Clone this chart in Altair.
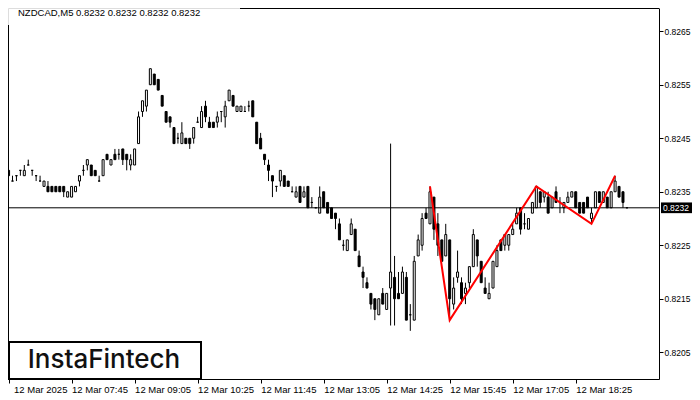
import altair as alt
import pandas as pd

# ---------------- data ----------------
opens = [0.8239,0.8237,0.8238,0.8239,0.8238,0.8240,0.8239,0.8238,0.8237,0.8236,
         0.8236,0.8236,0.8236,0.8236,0.8236,0.8234,0.8234,0.8235,0.8237,0.8239,
         0.8240,0.8240,0.8239,0.8237,0.8238,0.8242,0.8240,0.8242,0.8242,0.8243,
         0.8242,0.8240,0.8240,0.8244,0.8250,0.8251,0.8255,0.8257,0.8256,0.8253,
         0.8250,0.8249,0.8247,0.8245,0.8244,0.8245,0.8245,0.8245,0.8248,0.8247,
         0.8251,0.8248,0.8248,0.8248,0.8250,0.8249,0.8252,0.8253,0.8250,0.8250,
         0.8250,0.8251,0.8252,0.8248,0.8245,0.8242,0.8240,0.8238,0.8236,0.8237,
         0.8238,0.8237,0.8235,0.8234,0.8236,0.8234,0.8236,0.8233,0.8232,0.8231,
         0.8235,0.8233,0.8232,0.8231,0.8229,0.8225,0.8224,0.8227,0.8228,0.8223,
         0.8220,0.8218,0.8216,0.8215,0.8212,0.8216,0.8213,0.8217,0.8219,0.8216,
         0.8216,0.8219,0.8212,0.8211,0.8223,0.8225,0.8231,0.8229,0.8234,0.8229,
         0.8226,0.8223,0.8226,0.8214,0.8219,0.8218,0.8216,0.8218,0.8221,0.8226,
         0.8222,0.8217,0.8215,0.8217,0.8221,0.8226,0.8225,0.8225,0.8227,0.8229,
         0.8232,0.8229,0.8228,0.8231,0.8232,0.8235,0.8234,0.8234,0.8232,0.8235,
         0.8233,0.8232,0.8233,0.8234,0.8235,0.8233,0.8233,0.8234,0.8230,0.8232,
         0.8235,0.8233,0.8234,0.8232,0.8235,0.8236,0.8235,0.8232]
highs = [0.8239,0.8238,0.8238,0.8239,0.8240,0.8241,0.8239,0.8238,0.8238,0.8237,
         0.8237,0.8236,0.8236,0.8236,0.8236,0.8235,0.8236,0.8236,0.8238,0.8240,
         0.8241,0.8240,0.8239,0.8238,0.8241,0.8242,0.8241,0.8243,0.8243,0.8243,
         0.8242,0.8242,0.8243,0.8250,0.8252,0.8254,0.8258,0.8257,0.8256,0.8253,
         0.8250,0.8249,0.8247,0.8246,0.8248,0.8245,0.8245,0.8247,0.8249,0.8251,
         0.8252,0.8249,0.8248,0.8250,0.8250,0.8252,0.8254,0.8253,0.8251,0.8251,
         0.8251,0.8252,0.8252,0.8248,0.8246,0.8242,0.8241,0.8238,0.8236,0.8239,
         0.8238,0.8237,0.8236,0.8236,0.8236,0.8236,0.8236,0.8234,0.8232,0.8236,
         0.8235,0.8233,0.8232,0.8231,0.8230,0.8226,0.8226,0.8230,0.8228,0.8224,
         0.8221,0.8219,0.8216,0.8215,0.8215,0.8217,0.8216,0.8244,0.8223,0.8220,
         0.8221,0.8220,0.8214,0.8223,0.8227,0.8231,0.8232,0.8236,0.8234,0.8231,
         0.8226,0.8229,0.8226,0.8219,0.8224,0.8219,0.8218,0.8221,0.8228,0.8226,
         0.8222,0.8219,0.8218,0.8222,0.8225,0.8226,0.8227,0.8227,0.8229,0.8232,
         0.8232,0.8231,0.8230,0.8233,0.8236,0.8235,0.8235,0.8235,0.8234,0.8236,
         0.8234,0.8233,0.8235,0.8235,0.8235,0.8233,0.8233,0.8234,0.8232,0.8235,
         0.8235,0.8235,0.8234,0.8235,0.8238,0.8236,0.8235,0.8232]
lows = [0.8238,0.8237,0.8237,0.8238,0.8238,0.8240,0.8238,0.8237,0.8237,0.8236,
        0.8235,0.8235,0.8235,0.8235,0.8234,0.8234,0.8234,0.8235,0.8236,0.8238,
        0.8239,0.8238,0.8238,0.8237,0.8238,0.8241,0.8240,0.8241,0.8241,0.8240,
        0.8239,0.8239,0.8240,0.8244,0.8249,0.8250,0.8255,0.8255,0.8254,0.8251,
        0.8248,0.8247,0.8244,0.8244,0.8244,0.8244,0.8243,0.8244,0.8248,0.8247,
        0.8248,0.8247,0.8247,0.8247,0.8248,0.8247,0.8252,0.8251,0.8250,0.8250,
        0.8250,0.8250,0.8249,0.8244,0.8243,0.8240,0.8237,0.8234,0.8235,0.8236,
        0.8236,0.8236,0.8235,0.8234,0.8233,0.8234,0.8232,0.8232,0.8232,0.8231,
        0.8232,0.8231,0.8230,0.8228,0.8226,0.8224,0.8224,0.8227,0.8224,0.8221,
        0.8217,0.8217,0.8213,0.8211,0.8212,0.8214,0.8213,0.8210,0.8210,0.8215,
        0.8216,0.8211,0.8209,0.8211,0.8223,0.8224,0.8230,0.8229,0.8226,0.8223,
        0.8222,0.8223,0.8211,0.8213,0.8218,0.8214,0.8214,0.8217,0.8221,0.8221,
        0.8218,0.8216,0.8215,0.8217,0.8221,0.8224,0.8224,0.8224,0.8227,0.8229,
        0.8227,0.8228,0.8228,0.8231,0.8232,0.8232,0.8233,0.8231,0.8232,0.8233,
        0.8231,0.8231,0.8233,0.8234,0.8232,0.8231,0.8231,0.8232,0.8229,0.8232,
        0.8233,0.8233,0.8232,0.8232,0.8235,0.8234,0.8232,0.8232]
closes = [0.8238,0.8237,0.8238,0.8239,0.8239,0.8240,0.8239,0.8238,0.8237,0.8237,
          0.8235,0.8235,0.8235,0.8235,0.8235,0.8235,0.8236,0.8236,0.8238,0.8239,
          0.8241,0.8238,0.8238,0.8237,0.8241,0.8241,0.8241,0.8241,0.8242,0.8241,
          0.8241,0.8241,0.8243,0.8249,0.8252,0.8254,0.8258,0.8255,0.8254,0.8251,
          0.8248,0.8248,0.8244,0.8245,0.8246,0.8244,0.8244,0.8247,0.8248,0.8250,
          0.8249,0.8247,0.8247,0.8249,0.8250,0.8251,0.8254,0.8251,0.8251,0.8251,
          0.8250,0.8251,0.8249,0.8244,0.8243,0.8241,0.8239,0.8237,0.8236,0.8239,
          0.8236,0.8236,0.8235,0.8235,0.8233,0.8235,0.8232,0.8233,0.8232,0.8234,
          0.8232,0.8231,0.8230,0.8230,0.8226,0.8225,0.8226,0.8229,0.8224,0.8221,
          0.8219,0.8217,0.8214,0.8213,0.8215,0.8214,0.8216,0.8220,0.8215,0.8215,
          0.8220,0.8211,0.8212,0.8222,0.8226,0.8230,0.8230,0.8235,0.8228,0.8225,
          0.8222,0.8227,0.8215,0.8217,0.8220,0.8215,0.8217,0.8221,0.8227,0.8223,
          0.8218,0.8216,0.8216,0.8222,0.8224,0.8224,0.8227,0.8227,0.8228,0.8231,
          0.8228,0.8229,0.8230,0.8233,0.8236,0.8233,0.8235,0.8231,0.8234,0.8233,
          0.8233,0.8233,0.8234,0.8235,0.8232,0.8231,0.8231,0.8232,0.8231,0.8235,
          0.8233,0.8235,0.8232,0.8235,0.8237,0.8234,0.8233,0.8232]

tick_idx = [0, 16, 32, 48, 64, 80, 96, 112, 128, 144]
tick_labels = ["12 Mar 2025", "12 Mar 07:45", "12 Mar 09:05", "12 Mar 10:25",
               "12 Mar 11:45", "12 Mar 13:05", "12 Mar 14:25", "12 Mar 15:45",
               "12 Mar 17:05", "12 Mar 18:25"]
price_ticks = [0.8205, 0.8215, 0.8225, 0.8235, 0.8245, 0.8255, 0.8265]

pattern_idx = [107, 112, 134, 148, 154]
pattern_price = [0.8236, 0.8211, 0.8236, 0.8229, 0.8238]

current_price = 0.8232
symbol_title = "NZDCAD,M5  0.8232 0.8232 0.8232 0.8232"
logo_text = "InstaFintech"

# ---------------- frames ----------------
n = len(opens)
df = pd.DataFrame({"i": list(range(n)), "o": opens, "h": highs,
                   "l": lows, "c": closes})
df["top"] = df[["o", "c"]].max(axis=1)
df["bot"] = df[["o", "c"]].min(axis=1)
df["bull"] = df["c"] >= df["o"]

pat = pd.DataFrame({"i": pattern_idx, "p": pattern_price})
cur = pd.DataFrame({"p": [current_price], "lo": [current_price - 0.0001],
                    "hi": [current_price + 0.0001],
                    "t": [f"{current_price:.4f}"]})

FONT = "Liberation Sans"
W, H = 651, 371

label_map = "{" + ",".join(f"'{k}':'{v}'" for k, v in zip(tick_idx, tick_labels)) + "}"

xscale = alt.Scale(domain=[1.125, 1.125 + W / 4.0], nice=False, zero=False)
yscale = alt.Scale(domain=[0.8200, 0.8200 + H / 53500.0], nice=False, zero=False)

xaxis = alt.Axis(values=tick_idx, labelExpr=label_map + "[datum.value]",
                 orient="bottom", tickSize=4, labelPadding=1, grid=False,
                 domainColor="black", tickColor="black", labelColor="black",
                 labelFont=FONT, labelFontSize=9.5, labelAlign="left",
                 labelOverlap=False, labelFlush=False,
                 labelOffset={"expr": "datum.value < 1 ? 5 : 0"},
                 title="")
yaxis = alt.Axis(values=price_ticks, format=".4f", orient="right", tickSize=4,
                 labelPadding=1, grid=False, domainColor="black",
                 tickColor="black", labelColor="black", labelFont=FONT,
                 labelFontSize=8.5, title="")

base = alt.Chart(df)

wicks = base.mark_rule(color="black", strokeWidth=1, clip=True).encode(
    x=alt.X("i:Q", scale=xscale, axis=xaxis),
    y=alt.Y("l:Q", scale=yscale, axis=yaxis),
    y2="h:Q",
)
bodies = base.mark_bar(size=2, stroke="black", strokeWidth=1, clip=True).encode(
    x=alt.X("i:Q", scale=xscale),
    y=alt.Y("bot:Q", scale=yscale),
    y2="top:Q",
    fill=alt.condition(alt.datum.bull, alt.value("white"), alt.value("black")),
)

price_line = alt.Chart(cur).mark_rule(color="black", strokeWidth=1).encode(
    y=alt.Y("p:Q", scale=yscale)
)
price_box = alt.Chart(cur).mark_rect(color="black").encode(
    x=alt.value(653), x2=alt.value(684),
    y=alt.Y("lo:Q", scale=yscale), y2="hi:Q",
)
price_txt = alt.Chart(cur).mark_text(color="white", align="left", font=FONT,
                                     fontSize=8.5, baseline="middle").encode(
    x=alt.value(655), y=alt.Y("p:Q", scale=yscale), text="t:N"
)

pattern = alt.Chart(pat).mark_line(color="#ff0000", strokeWidth=2).encode(
    x=alt.X("i:Q", scale=xscale), y=alt.Y("p:Q", scale=yscale)
)

top_line = alt.Chart(cur).mark_rule(color="black", strokeWidth=1).encode(
    x=alt.value(232), x2=alt.value(W), y=alt.value(0.5)
)
left_line = alt.Chart(cur).mark_rule(color="black", strokeWidth=1).encode(
    x=alt.value(0.5), y=alt.value(17), y2=alt.value(H)
)

title_txt = alt.Chart(cur).mark_text(align="left", baseline="middle", font=FONT,
                                     fontSize=9.5, color="black").encode(
    x=alt.value(10), y=alt.value(4.5), text=alt.value(symbol_title)
)

logo_box = alt.Chart(cur).mark_rect(fill="white", stroke="black",
                                    strokeWidth=2).encode(
    x=alt.value(1), x2=alt.value(193), y=alt.value(334), y2=alt.value(H)
)
logo_txt = alt.Chart(cur).mark_text(align="center", baseline="middle",
                                    font="Inter", fontSize=26, fontWeight=500,
                                    color="#111111").encode(
    x=alt.value(96), y=alt.value(352), text=alt.value(logo_text)
)

chart = alt.layer(
    wicks, bodies, price_line, pattern, price_box, price_txt,
    top_line, left_line, title_txt, logo_box, logo_txt
).properties(
    width=W, height=H,
    autosize=alt.AutoSizeParams(type="none"),
    padding={"left": 0, "top": 0, "right": 33, "bottom": 21},
).configure_view(strokeWidth=0).configure(background="white")

chart.save("out.html", embed_options={"renderer": "svg", "actions": False})
